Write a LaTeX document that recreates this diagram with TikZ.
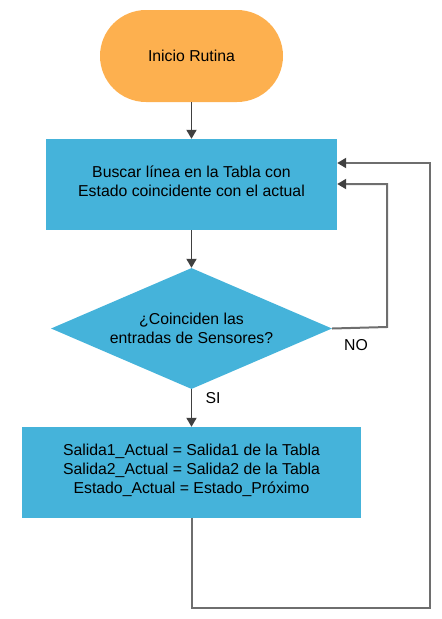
\documentclass[tikz,border=0pt]{standalone}
\usepackage{fontspec}
\setmainfont{Liberation Sans}
\usetikzlibrary{shapes.geometric,arrows.meta}
\definecolor{termorange}{HTML}{FDB04F}
\definecolor{procblue}{HTML}{45B3DA}
\definecolor{arrdark}{HTML}{404040}
\definecolor{loopgray}{HTML}{6E6E6E}
\begin{document}
\begin{tikzpicture}[x=1pt,y=-1pt,
  every node/.style={font=\fontsize{15.8}{19}\selectfont, text=black, align=center, inner sep=0pt},
  term/.style={fill=termorange, rounded corners=46pt, minimum width=183pt, minimum height=92pt},
  proc/.style={fill=procblue, minimum height=91pt},
  decis/.style={fill=procblue, diamond, minimum width=281pt, minimum height=121pt},
  flow/.style={draw=arrdark, line width=1.8pt, -{Triangle[width=10pt,length=9pt]}},
  loopline/.style={draw=loopgray, line width=2pt, -{Triangle[width=10pt,length=9pt]}, arrows={-{Triangle[width=10pt,length=9pt,color=arrdark]}}},
  lbl/.style={font=\fontsize{15.8}{19}\selectfont}
]
\useasboundingbox (0,0) rectangle (442,619);
\node[term] (start) at (191.5,56) {Inicio Rutina};
\node[proc, minimum width=291pt] (search) at (191.5,184.5) {};
\node (searchtxt) at (191.5,181.5) {Buscar línea en la Tabla con\\Estado coincidente con el actual};
\node[decis] (dec) at (191.5,328.5) {};
\node (dectxt) at (191.5,328.5) {¿Coinciden las\\entradas de Sensores?};
\node[proc, minimum width=339pt] (assign) at (191.5,472.5) {};
\node (assigntxt) at (191.5,470) {Salida1\_Actual = Salida1 de la Tabla\\Salida2\_Actual = Salida2 de la Tabla\\Estado\_Actual = Estado\_Próximo};
\coordinate (noA) at (387,327);
\coordinate (noB) at (387,184);
\coordinate (loopA) at (191.5,608);
\coordinate (loopB) at (430,608);
\coordinate (loopC) at (430,163);
\draw[flow] (start.south) -- (search.north);
\draw[flow] (search.south) -- (dec.north);
\draw[flow] (dec.south) -- (assign.north);
\draw[loopline] (dec.east) -- (noA) -- (noB) -- (search.east |- noB);
\draw[loopline] (assign.south) -- (loopA) -- (loopB) -- (loopC) -- (search.east |- loopC);
\node[lbl] (si) at (213,398) {SI};
\node[lbl] (no) at (356,345) {NO};
\end{tikzpicture}
\end{document}
